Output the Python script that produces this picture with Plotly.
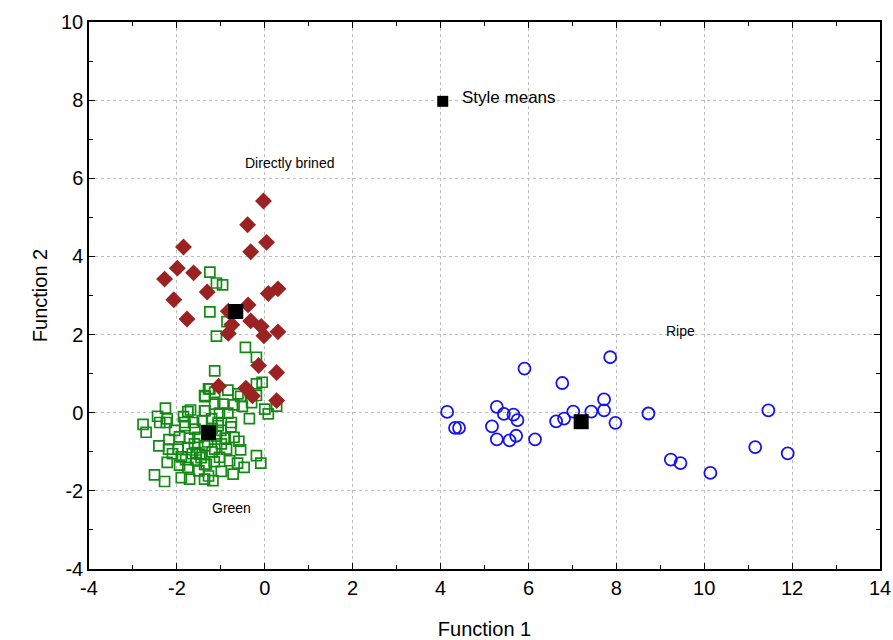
import plotly.graph_objects as go

# Directly brined (dark red diamonds)
brined_x = [-0.03, -0.39, 0.04, -1.85, -0.32, -1.99, -1.62, -2.28, -1.31, -2.07,
            0.30, 0.08, -1.77, -0.38, -0.83, -0.32, -0.75, -0.83, -0.08, -0.02,
            0.30, -0.14, 0.27, -1.05, -0.43, -0.28, 0.27]
brined_y = [5.42, 4.81, 4.36, 4.24, 4.12, 3.70, 3.58, 3.42, 3.09, 2.89,
            3.17, 3.05, 2.40, 2.76, 2.60, 2.35, 2.25, 2.03, 2.21, 1.97,
            2.07, 1.21, 1.03, 0.68, 0.63, 0.43, 0.31]

# Green (open green squares)
green_x = [-1.25, -1.10, -0.96, -1.25, -0.86, -1.10, -0.44, -0.19,
           -1.28, -1.36, -1.36, -2.26, -2.44, -2.22, -1.75, -1.69, -2.77, -1.82, -1.62, -2.39,
           -1.14, -0.84, -0.19, -0.06, -1.14, -1.25, -0.61, -0.55, -0.19, -1.37,
           -1.14, -0.95, -0.70, -0.51, -0.30, 0.00, 0.08, -1.37, -1.03, -0.84,
           -1.21, -0.76, -1.06, 0.27,
           -2.70, -2.24, -2.41, -2.18, -2.19, -1.94, -1.71, -1.52, -1.97, -1.75,
           -1.90, -1.56, -1.56, -2.22, -1.94, -1.75, -1.50, -2.51, -2.28, -1.90,
           -1.71, -1.37, -1.37, -1.82, -1.59, -1.37, -1.48,
           -1.06, -0.77, -0.70, -0.59, -0.99, -1.14, -0.87, -0.19, -0.09,
           -1.03, -0.80, -0.62, -0.47, -1.33, -0.99, -0.72, -1.28, -1.18,
           -1.20, -1.10, -1.42, -1.00, -1.30, -1.20, -0.90, -1.60, -1.80, -1.45, -1.15,
           -2.05, -1.65, -0.55, -0.35, -1.85, -2.10]
green_y = [3.60, 3.32, 3.27, 2.58, 2.33, 1.96, 1.67, 1.42,
           0.61, 0.41, 0.05, 0.12, -0.09, -0.16, 0.03, 0.07, -0.30, -0.25, -0.25, -0.25,
           1.07, 0.58, 0.74, 0.78, 0.52, 0.61, 0.48, 0.42, 0.44, 0.44,
           0.22, 0.22, 0.20, 0.16, 0.26, 0.09, -0.03, 0.05, -0.01, -0.01,
           -0.16, -0.25, -0.25, 0.17,
           -0.50, -0.25, -0.85, -0.69, -0.93, -0.62, -0.65, -0.63, -0.93, -0.89,
           -1.13, -1.02, -1.21, -1.27, -1.34, -1.40, -1.49, -1.59, -1.76, -1.66,
           -1.70, -1.32, -1.70, -0.33, -0.42, -0.85, -1.06,
           -0.33, -0.36, -0.63, -0.73, -0.80, -0.93, -0.93, -1.10, -1.29,
           -1.14, -1.23, -1.29, -1.40, -1.32, -1.50, -1.57, -1.62, -1.74,
           -0.40, -0.60, -0.20, -0.45, -0.75, -1.00, -0.65, -0.80, -1.20, -1.15, -1.25,
           -0.45, -1.05, -0.95, -0.15, -0.10, -1.05]

# Ripe (open blue circles)
ripe_x = [4.15, 4.33, 4.42, 5.28, 5.44, 5.66, 5.75, 5.17, 5.28, 5.57,
          5.72, 6.15, 5.91, 6.77, 6.63, 6.81, 7.02, 7.43, 7.72, 7.72,
          7.98, 7.86, 8.73, 11.46, 9.24, 9.46, 10.14, 11.16, 11.90]
ripe_y = [0.02, -0.39, -0.39, 0.15, -0.03, -0.05, -0.19, -0.35, -0.68, -0.71,
          -0.59, -0.68, 1.13, 0.76, -0.22, -0.15, 0.03, 0.03, 0.34, 0.06,
          -0.26, 1.42, -0.02, 0.06, -1.20, -1.29, -1.54, -0.88, -1.04]

# Style means
means_x = [-0.66, -1.28, 7.20]
means_y = [2.59, -0.51, -0.23]
key_x = [4.05]
key_y = [7.97]

labels = ["Directly brined", "Ripe", "Green", "Style means"]
label_x = [0.57, 9.45, -0.75, 4.45]
label_y = [6.38, 2.10, -2.44, 8.08]

x_ticks = [-4, -2, 0, 2, 4, 6, 8, 10, 12, 14]
x_ticktext = ["-4", "-2", "0", "2", "4", "6", "8", "10", "12", "14"]
y_ticks = [-4, -2, 0, 2, 4, 6, 8, 10]
y_ticktext = ["-4", "-2", "0", "2", "4", "6", "8", "10"]

fig = go.Figure()
fig.add_trace(go.Scatter(x=green_x, y=green_y, mode="markers",
                         marker=dict(symbol="square-open", size=10, color="#138a13",
                                     line=dict(width=1.7, color="#138a13"))))
fig.add_trace(go.Scatter(x=brined_x, y=brined_y, mode="markers",
                         marker=dict(symbol="diamond", size=13, color="#9b2222",
                                     line=dict(width=0))))
fig.add_trace(go.Scatter(x=ripe_x, y=ripe_y, mode="markers",
                         marker=dict(symbol="circle-open", size=12, color="#1414f0",
                                     line=dict(width=1.8, color="#1414f0"))))
fig.add_trace(go.Scatter(x=means_x, y=means_y, mode="markers",
                         marker=dict(symbol="square", size=15, color="black")))
fig.add_trace(go.Scatter(x=key_x, y=key_y, mode="markers",
                         marker=dict(symbol="square", size=11, color="black")))

for i, t in enumerate(labels):
    if t == "Style means":
        fig.add_annotation(x=label_x[i], y=label_y[i], text=t, showarrow=False,
                           xanchor="left", font=dict(size=17, color="black"))
    else:
        fig.add_annotation(x=label_x[i], y=label_y[i], text=t, showarrow=False,
                           font=dict(size=14, color="black"))

axis_common = dict(showline=True, linecolor="black", linewidth=1.5, mirror="ticks",
                   ticks="inside", ticklen=6, tickcolor="black", tickwidth=1,
                   showgrid=True, gridcolor="#bdbdbd", griddash="dot", gridwidth=1,
                   zeroline=False, automargin=False, ticklabeloverflow="allow",
                   tickfont=dict(size=20, color="black"),
                   minor=dict(ticks="inside", ticklen=4, dtick=1, tickcolor="black",
                              showgrid=False))

fig.update_xaxes(range=[-4, 14], tickmode="array", tickvals=x_ticks, ticktext=x_ticktext,
                 title=dict(text="Function 1", font=dict(size=20, color="black"), standoff=24),
                 **axis_common)
fig.update_yaxes(range=[-4, 10], tickmode="array", tickvals=y_ticks, ticktext=y_ticktext,
                 title=dict(text="Function 2", font=dict(size=20, color="black"), standoff=8),
                 **axis_common)

fig.update_layout(width=893, height=640, showlegend=False,
                  plot_bgcolor="white", paper_bgcolor="white",
                  margin=dict(l=89, r=13, t=22, b=71),
                  font=dict(family="Liberation Sans, Arial, sans-serif"))

# remove the default page margin so the figure fills the 893x640 window exactly
fig.write_html("out.html", config={"displayModeBar": False},
               post_script="document.body.style.margin='0';document.body.style.overflow='hidden';")
